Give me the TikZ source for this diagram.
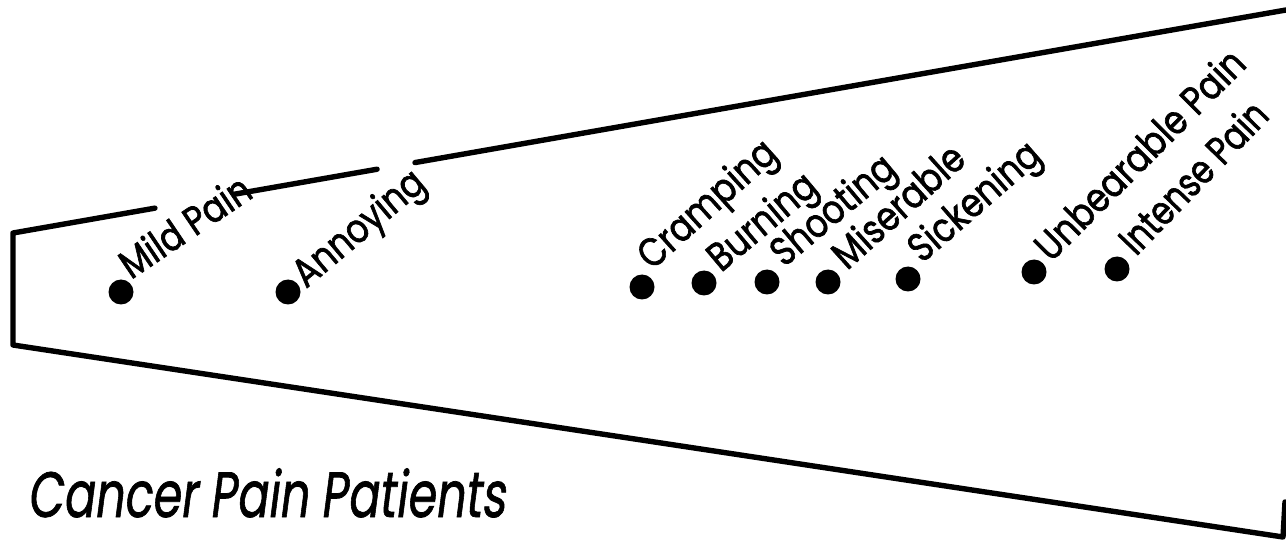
\documentclass[tikz,border=0pt]{standalone}
\usepackage{fontspec}
\usetikzlibrary{calc}
\newfontfamily\lblfont[FakeBold=1.8]{Poppins}
\newfontfamily\ttlfont[FakeSlant=0.18,FakeBold=1.2]{Poppins}
\newcommand{\lbltext}[2][0.84]{\scalebox{#1}[1]{#2}}
\begin{document}
\begin{tikzpicture}[x=1pt,y=-1pt,
  edge/.style={line width=5.4pt, line cap=round, line join=round},
  dot/.style={circle, fill=black, minimum size=25pt, inner sep=0pt},
  lbl/.style={font=\lblfont\fontsize{40}{40}\selectfont, anchor=base west, inner sep=0pt},
  ttl/.style={font=\ttlfont\fontsize{64}{64}\selectfont, anchor=base west, inner sep=0pt}]
\useasboundingbox (0,0) rectangle (1286,540);
% corners
\coordinate (TL) at (13,233);
\coordinate (BL) at (13,345);
\coordinate (TR) at (1286,10);
\coordinate (BR) at (1283,537);
\coordinate (RV) at (1285,502);
% outline
\draw[edge] (TR) -- ($(TL)!0.3158!(TR)$);
\draw[edge] ($(TL)!0.286!(TR)$) -- ($(TL)!0.1744!(TR)$);
\draw[edge] ($(TL)!0.1115!(TR)$) -- (TL) -- (BL) -- (BR) -- (RV);
% dots
\node[dot] (d1) at (121,292) {};
\node[dot] (d2) at (288,292) {};
\node[dot] (d3) at (642,287) {};
\node[dot] (d4) at (704,283) {};
\node[dot] (d5) at (767,282) {};
\node[dot] (d6) at (828,282) {};
\node[dot] (d7) at (908,279) {};
\node[dot] (d8) at (1034,272) {};
\node[dot] (d9) at (1117,269) {};
% labels
\node[lbl, rotate=34] (l1) at (131,280) {\lbltext{Mild Pain}};
\node[lbl, rotate=40] (l2) at (306,289) {\lbltext{Annoying}};
\node[lbl, rotate=42] (l3) at (652,271) {\lbltext{Cramping}};
\node[lbl, rotate=40] (l4) at (721,273) {\lbltext{Burning}};
\node[lbl, rotate=40] (l5) at (784,268) {\lbltext{Shooting}};
\node[lbl, rotate=42] (l6) at (847,271) {\lbltext{Miserable}};
\node[lbl, rotate=41] (l7) at (922,264) {\lbltext{Sickening}};
\node[lbl, rotate=45] (l8) at (1051,263) {\lbltext{Unbearable Pain}};
\node[lbl, rotate=46] (l9) at (1136,257) {\lbltext[0.8]{Intense Pain}};
% title
\node[ttl] (t) at (27,517) {\scalebox{0.72}[1]{Cancer Pain Patients}};
\end{tikzpicture}
\end{document}
